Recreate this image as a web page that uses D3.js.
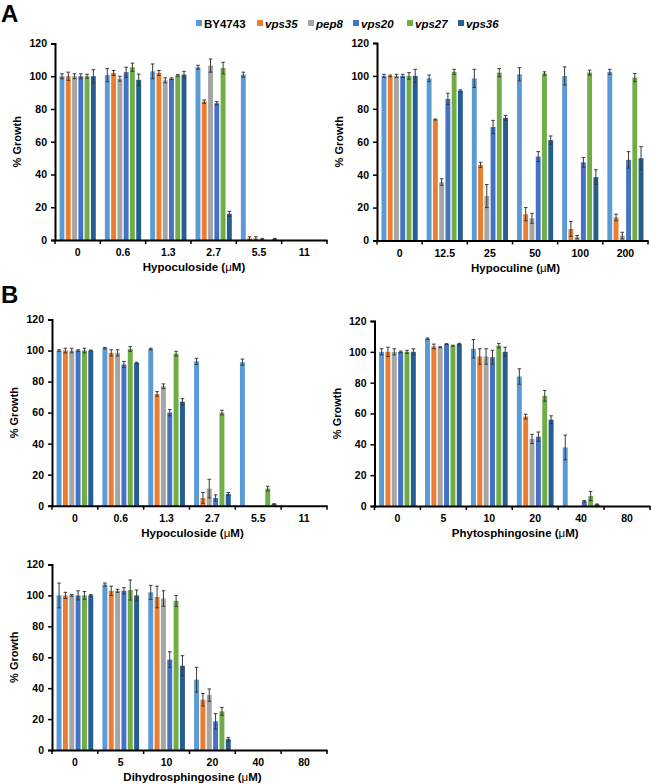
<!DOCTYPE html>
<html>
<head>
<meta charset="utf-8">
<script src="https://cdn.jsdelivr.net/npm/d3@7"></script>
<style>
  body { margin: 0; background: #fff; }
  svg { display: block; font-family: "Liberation Sans", Arial, sans-serif; }
</style>
</head>
<body>
<svg id="chart" width="652" height="784"></svg>
<script>
// ---------- DATA ----------
const seriesNames = ["BY4743", "vps35", "pep8", "vps20", "vps27", "vps36"];
const seriesItalic = [false, true, true, true, true, true];
const seriesColors = ["#5B9BD5", "#ED7D31", "#A5A5A5", "#4472C4", "#70AD47", "#255E91"];
const yTicks = [0, 20, 40, 60, 80, 100, 120];

// Panel A left: Hypoculoside
const catsA1 = ["0", "0.6", "1.3", "2.7", "5.5", "11"];
const valsA1 = [ // rows = series, cols = categories
  [100, 100.7, 103, 105.5, 101, 0],
  [100, 102, 102, 84.5, 1, 0],
  [100, 98.5, 97.5, 106.5, 1, 0],
  [100, 102.5, 98.5, 83.5, 0.5, 0],
  [100, 105.5, 100.5, 105, 0, 0],
  [100, 97.8, 101, 16, 0.5, 0]
];
const errA1 = [
  [1.5, 4, 4.5, 1.2, 1.5, 0],
  [2.5, 1.5, 1.5, 1, 1, 0],
  [1.5, 1.5, 1.5, 4, 1, 0],
  [1.5, 3, 0.5, 1, 0.5, 0],
  [1.2, 2.5, 0.5, 3.5, 0, 0],
  [4, 3.5, 2, 1.5, 0.5, 0]
];

// Panel A right: Hypoculine
const catsA2 = ["0", "12.5", "25", "50", "100", "200"];
const valsA2 = [
  [100, 98.5, 98.5, 101, 100, 102.5],
  [100, 73.5, 46, 16, 7, 14],
  [100, 35.5, 27, 13.5, 2, 3],
  [100, 86, 69, 51, 47.5, 49],
  [100, 102.5, 102, 101.5, 102, 99],
  [100, 91, 74.5, 61, 38.5, 50]
];
const errA2 = [
  [1, 2, 5.5, 4, 5.5, 1.5],
  [0.5, 0.3, 1.5, 4, 4.5, 2],
  [1, 2, 7, 3, 1, 2],
  [1, 3.5, 4, 3, 3, 5],
  [2, 1.5, 2.5, 1, 1.5, 2.5],
  [4, 0.5, 1.5, 2.5, 4.5, 7]
];

// Panel B left: Hypoculoside
const catsB1 = ["0", "0.6", "1.3", "2.7", "5.5", "11"];
const valsB1 = [
  [100, 101.5, 101, 93, 92.5, 0],
  [100, 98.5, 72, 5, 0, 0],
  [100, 98.5, 77, 11, 0, 0],
  [100, 91, 60, 5, 0, 0],
  [100, 101, 98, 60, 11, 0],
  [100, 92, 67, 7.5, 1, 0]
];
const errB1 = [
  [0.5, 0.5, 0.5, 2, 2, 0],
  [1.5, 2, 1.5, 3.5, 0, 0],
  [1.5, 2, 1.5, 6, 0, 0],
  [0.5, 2, 2, 2, 0, 0],
  [1.5, 1.5, 1.5, 1.5, 1.5, 0],
  [0.3, 0.5, 2, 1, 0.3, 0]
];

// Panel B right: Phytosphingosine
const catsB2 = ["0", "5", "10", "20", "40", "80"];
const valsB2 = [
  [100, 108.5, 102, 84, 38, 0],
  [100, 103.5, 97, 58, 0, 0],
  [100, 103, 97, 43.5, 0, 0],
  [100, 105, 96.5, 45, 3, 0],
  [100, 104, 104, 71.5, 6.5, 0],
  [100, 105, 100, 56, 1, 0]
];
const errB2 = [
  [2, 0.5, 6, 5, 8, 0],
  [3, 1.5, 5, 1.5, 0, 0],
  [2, 0.3, 5, 3, 0, 0],
  [0.5, 0.3, 4.5, 3, 0.5, 0],
  [1, 0.3, 1.5, 3.5, 3, 0],
  [2, 0.5, 3, 2.5, 0.3, 0]
];

// Panel B bottom: Dihydrosphingosine
const catsC = ["0", "5", "10", "20", "40", "80"];
const valsC = [
  [100, 107, 102, 45.5, 0, 0],
  [100, 103, 99, 32.5, 0, 0],
  [100, 103, 98, 35.5, 0, 0],
  [100, 103, 58.5, 18.5, 0, 0],
  [100, 103.5, 96.5, 25, 0, 0],
  [100, 100, 54.5, 7, 0, 0]
];
const errC = [
  [8, 1, 4.5, 8, 0, 0],
  [2, 3, 7, 4, 0, 0],
  [0.5, 1, 5, 4, 0, 0],
  [3, 2, 5, 5, 0, 0],
  [2.5, 6.5, 3.5, 2.5, 0, 0],
  [0.5, 3.5, 6.5, 1, 0, 0]
];

// ---------- LAYOUT ----------
const panels = [
  { cats: catsA1, vals: valsA1, errs: errA1, title: "Hypoculoside", x0: 55, x1: 327, yTop: 43.5, y0: 240 },
  { cats: catsA2, vals: valsA2, errs: errA2, title: "Hypoculine", x0: 377, x1: 648, yTop: 43, y0: 240.5 },
  { cats: catsB1, vals: valsB1, errs: errB1, title: "Hypoculoside", x0: 52, x1: 327, yTop: 319.5, y0: 505.7 },
  { cats: catsB2, vals: valsB2, errs: errB2, title: "Phytosphingosine", x0: 374.5, x1: 650, yTop: 321, y0: 506 },
  { cats: catsC, vals: valsC, errs: errC, title: "Dihydrosphingosine", x0: 52, x1: 327, yTop: 564.5, y0: 750 }
];

const svg = d3.select("#chart");

panels.forEach(p => {
  const g = svg.append("g");
  const x = d3.scaleBand().domain(p.cats).range([p.x0, p.x1]).paddingInner(0).paddingOuter(0);
  const bw = x.bandwidth();
  const xs = d3.scaleBand().domain(seriesNames).range([bw * 0.1, bw * 0.9]).paddingInner(0.22);
  const y = d3.scaleLinear().domain([0, 120]).range([p.y0, p.yTop]);

  // bars
  seriesNames.forEach((s, si) => {
    p.cats.forEach((c, ci) => {
      const v = p.vals[si][ci];
      if (v > 0) {
        g.append("rect")
          .attr("x", x(c) + xs(s))
          .attr("y", y(v))
          .attr("width", xs.bandwidth())
          .attr("height", y(0) - y(v))
          .attr("fill", seriesColors[si]);
      }
    });
  });

  // error bars
  seriesNames.forEach((s, si) => {
    p.cats.forEach((c, ci) => {
      const v = p.vals[si][ci], e = p.errs[si][ci];
      if (e > 0) {
        const cx = x(c) + xs(s) + xs.bandwidth() / 2;
        const lo = Math.max(0, v - e), hi = v + e;
        g.append("line").attr("x1", cx).attr("x2", cx).attr("y1", y(lo)).attr("y2", y(hi))
          .attr("stroke", "#3a3a3a").attr("stroke-width", 1);
        [hi, lo].forEach(t => {
          g.append("line").attr("x1", cx - 1.8).attr("x2", cx + 1.8).attr("y1", y(t)).attr("y2", y(t))
            .attr("stroke", "#3a3a3a").attr("stroke-width", 1);
        });
      }
    });
  });

  // y axis
  const ya = d3.axisLeft(y).tickValues(yTicks).tickSize(4).tickPadding(4);
  const yg = g.append("g").attr("transform", `translate(${p.x0},0)`).call(ya);
  yg.select(".domain").attr("stroke", "#000").attr("stroke-width", 2);
  yg.selectAll(".tick line").attr("stroke", "#000").attr("stroke-width", 1.5);
  yg.selectAll(".tick text").attr("font-size", 10.5).attr("font-weight", "bold")
    .attr("font-family", "Liberation Sans, Arial, sans-serif").attr("fill", "#000");

  // x axis (labels centered, ticks at category boundaries)
  const xa = d3.axisBottom(x).tickSize(0).tickPadding(9);
  const xg = g.append("g").attr("transform", `translate(0,${p.y0})`).call(xa);
  xg.select(".domain").attr("stroke", "#000").attr("stroke-width", 2);
  xg.selectAll(".tick text").attr("font-size", 10.5).attr("font-weight", "bold")
    .attr("font-family", "Liberation Sans, Arial, sans-serif").attr("fill", "#000");
  const bounds = p.cats.map(c => x(c)).concat([x(p.cats[p.cats.length - 1]) + bw]);
  g.selectAll(null).data(bounds).enter().append("line")
    .attr("x1", d => d).attr("x2", d => d).attr("y1", p.y0).attr("y2", p.y0 + 4)
    .attr("stroke", "#000").attr("stroke-width", 1.5);

  // x title
  const xt = g.append("text")
    .attr("x", (p.x0 + p.x1) / 2 + 3)
    .attr("y", p.y0 + 31)
    .attr("text-anchor", "middle")
    .attr("font-size", 11.5).attr("font-weight", "bold").attr("fill", "#000");
  xt.append("tspan").text(p.title + " (");
  xt.append("tspan").attr("font-weight", "normal").text("μ");
  xt.append("tspan").text("M)");

  // y title
  g.append("text")
    .attr("transform", `translate(${p.x0 - 34},${(p.y0 + p.yTop) / 2}) rotate(-90)`)
    .attr("text-anchor", "middle")
    .attr("font-size", 11).attr("font-weight", "bold").attr("fill", "#000")
    .text("% Growth");
});

// panel letters
svg.append("text").attr("x", 1).attr("y", 22).attr("font-size", 24).attr("font-weight", "bold").text("A");
svg.append("text").attr("x", 1).attr("y", 303).attr("font-size", 24).attr("font-weight", "bold").text("B");

// legend
const legendX = [196, 257, 308, 353, 407, 458];
const lg = svg.append("g");
seriesNames.forEach((s, i) => {
  lg.append("rect").attr("x", legendX[i]).attr("y", 20).attr("width", 6).attr("height", 6).attr("fill", seriesColors[i]);
  lg.append("text").attr("x", legendX[i] + 8).attr("y", 27.5)
    .attr("font-size", 11.5).attr("font-weight", "bold")
    .attr("font-style", seriesItalic[i] ? "italic" : "normal")
    .attr("fill", "#000").text(s);
});
</script>
</body>
</html>
